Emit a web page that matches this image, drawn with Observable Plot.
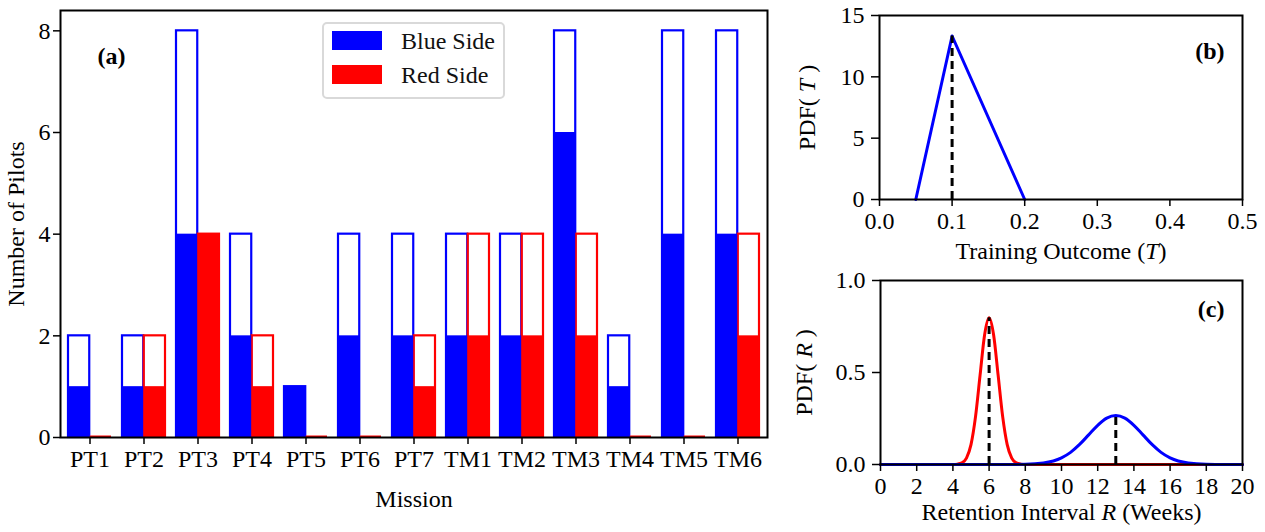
<!DOCTYPE html>
<html>
<head>
<meta charset="utf-8">
<script src="https://cdn.jsdelivr.net/npm/d3@7"></script>
<script src="https://cdn.jsdelivr.net/npm/@observablehq/plot@0.6"></script>
<style>
  html, body { margin: 0; padding: 0; background: white; }
  #wrap { position: relative; width: 1265px; height: 532px; background: white; font-family: "Liberation Serif", "Times New Roman", serif; }
  #wrap svg { position: absolute; overflow: visible; }
  .legend { position: absolute; left: 322px; top: 22px; width: 179px; height: 73px; border: 2px solid #d9d9d9; border-radius: 5px; background: white; }
  .legend .sw { position: absolute; left: 8px; width: 50px; height: 19px; }
  .legend .lb { position: absolute; left: 77px; font-size: 24px; line-height: 24px; color: #111; white-space: nowrap; }
</style>
</head>
<body>
<div id="wrap"></div>
<script>
// ---------- data: panel (a) ----------
const missions   = ["PT1","PT2","PT3","PT4","PT5","PT6","PT7","TM1","TM2","TM3","TM4","TM5","TM6"];
const blueTotal  = [2, 2, 8, 4, 1, 4, 4, 4, 4, 8, 2, 8, 8];
const blueFilled = [1, 1, 4, 2, 1, 2, 2, 2, 2, 6, 1, 4, 4];
const redTotal   = [0, 2, 4, 2, 0, 0, 2, 4, 4, 4, 0, 0, 4];
const redFilled  = [0, 1, 4, 1, 0, 0, 1, 2, 2, 2, 0, 0, 2];
const yTicksA    = [0, 2, 4, 6, 8];
const legendLabels = ["Blue Side", "Red Side"];

// ---------- data: panel (b) ----------
const triT   = [0.05, 0.10, 0.20];
const triPdf = [0, 13.33, 0];
const modeT  = 0.10;
const modeTPdf = 13.33;
const xTicksB = [0, 0.1, 0.2, 0.3, 0.4, 0.5];
const yTicksB = [0, 5, 10, 15];

// ---------- data: panel (c) ----------
const redR   = [0, 4.0, 4.25, 4.5, 4.75, 5.0, 5.25, 5.5, 5.75, 6.0, 6.25, 6.5, 6.75, 7.0, 7.25, 7.5, 7.75, 8.0, 20];
const redPdf = [0, 0, 0.002, 0.009, 0.035, 0.108, 0.26, 0.484, 0.704, 0.798, 0.704, 0.484, 0.26, 0.108, 0.035, 0.009, 0.002, 0, 0];
const blueR   = [0, 7, 8, 9, 10, 10.5, 11, 11.5, 12, 12.5, 13, 13.5, 14, 14.5, 15, 15.5, 16, 17, 18, 19, 20];
const bluePdf = [0, 0, 0.001, 0.008, 0.036, 0.066, 0.109, 0.161, 0.213, 0.252, 0.266, 0.252, 0.213, 0.161, 0.109, 0.066, 0.036, 0.008, 0.001, 0, 0];
const modesR   = [6, 13];
const modesPdf = [0.798, 0.266];
const xTicksC = [0, 2, 4, 6, 8, 10, 12, 14, 16, 18, 20];
const yTicksC = [0, 0.5, 1.0];

const BLUE = "#0000ff", RED = "#ff0000";
const FONT = "Liberation Serif";
const FS = 24;
const baseStyle = {fontFamily: FONT, fontSize: FS + "px", color: "black", background: "transparent", overflow: "visible"};

const wrap = document.getElementById("wrap");

// ---------- panel (a) ----------
const A = {width: 790, height: 532, ml: 60, mr: 23, mt: 10, mb: 95};
const stepA = (A.width - A.ml - A.mr) / missions.length;
const half = stepA * 0.4;
const barData = missions.map((m, i) => ({mission: m, bt: blueTotal[i], bf: blueFilled[i], rt: redTotal[i], rf: redFilled[i]}));

const plotA = Plot.plot({
  width: A.width, height: A.height,
  marginLeft: A.ml, marginRight: A.mr, marginTop: A.mt, marginBottom: A.mb,
  style: baseStyle,
  x: {type: "band", domain: missions, paddingInner: 0.2, paddingOuter: 0.1},
  y: {domain: [0, 8.4]},
  marks: [
    Plot.barY(barData, {x: "mission", y1: 0, y2: "bt", insetRight: half, fill: "none", stroke: BLUE, strokeWidth: 2.2}),
    Plot.barY(barData, {x: "mission", y1: 0, y2: "rt", insetLeft: half, fill: "none", stroke: RED, strokeWidth: 2.2}),
    Plot.barY(barData, {x: "mission", y1: 0, y2: "bf", insetRight: half, fill: BLUE}),
    Plot.barY(barData, {x: "mission", y1: 0, y2: "rf", insetLeft: half, fill: RED}),
    Plot.tickY(barData.filter(d => d.rt === 0), {x: "mission", y: "rt", insetLeft: half, stroke: RED, strokeWidth: 2, dy: -1}),
    Plot.frame({stroke: "black", strokeWidth: 2}),
    Plot.axisY({ticks: yTicksA, tickSize: 7, tickPadding: 3, strokeWidth: 1.5, fontSize: FS, label: "Number of Pilots", labelAnchor: "center", labelArrow: "none", labelOffset: 54}),
    Plot.axisX({tickSize: 7, tickPadding: 5, strokeWidth: 1.5, fontSize: FS, label: "Mission", labelAnchor: "center", labelArrow: "none", labelOffset: 69}),
    Plot.text(["(a)"], {frameAnchor: "top-left", dx: 37, dy: 36, fontWeight: "bold", fontSize: FS})
  ]
});
plotA.style.left = "0px"; plotA.style.top = "0px";
wrap.appendChild(plotA);

// legend (a)
const leg = document.createElement("div");
leg.className = "legend";
[BLUE, RED].forEach((c, i) => {
  const sw = document.createElement("div");
  sw.className = "sw"; sw.style.background = c; sw.style.top = (7 + i * 34) + "px";
  const lb = document.createElement("div");
  lb.className = "lb"; lb.textContent = legendLabels[i]; lb.style.top = (5 + i * 34) + "px";
  leg.appendChild(sw); leg.appendChild(lb);
});
wrap.appendChild(leg);

// ---------- panel (b) ----------
const triData = triT.map((t, i) => ({t, p: triPdf[i]}));
const plotB = Plot.plot({
  width: 475, height: 265,
  marginLeft: 89, marginRight: 23, marginTop: 15, marginBottom: 66,
  style: baseStyle,
  x: {domain: [0, 0.5]},
  y: {domain: [0, 15]},
  marks: [
    Plot.line(triData, {x: "t", y: "p", stroke: BLUE, strokeWidth: 3}),
    Plot.ruleX([modeT], {y1: 0, y2: modeTPdf, stroke: "black", strokeWidth: 3, strokeDasharray: "8,5"}),
    Plot.frame({stroke: "black", strokeWidth: 2}),
    Plot.axisY({ticks: yTicksB, tickSize: 8, tickPadding: 7, strokeWidth: 1.5, fontSize: FS, label: "PDF( T )", labelAnchor: "center", labelArrow: "none", labelOffset: 82}),
    Plot.axisX({ticks: xTicksB, tickFormat: d3.format(".1f"), tickSize: 7, tickPadding: 5, strokeWidth: 1.5, fontSize: FS, label: "Training Outcome (T)", labelAnchor: "center", labelArrow: "none", labelOffset: 59}),
    Plot.text(["(b)"], {frameAnchor: "top-right", dx: -18, dy: 26, fontWeight: "bold", fontSize: FS})
  ]
});
plotB.style.left = "790px"; plotB.style.top = "0px";
wrap.appendChild(plotB);

// ---------- panel (c) ----------
const redData = redR.map((r, i) => ({r, p: redPdf[i]}));
const blueData = blueR.map((r, i) => ({r, p: bluePdf[i]}));
const plotC = Plot.plot({
  width: 475, height: 267,
  marginLeft: 90, marginRight: 23, marginTop: 15, marginBottom: 68,
  style: baseStyle,
  x: {domain: [0, 20]},
  y: {domain: [0, 1]},
  marks: [
    Plot.line(redData, {x: "r", y: "p", stroke: RED, strokeWidth: 3, curve: "monotone-x"}),
    Plot.line(blueData, {x: "r", y: "p", stroke: BLUE, strokeWidth: 3, curve: "monotone-x"}),
    Plot.ruleX(modesR, {y1: 0, y2: (d, i) => modesPdf[i], stroke: "black", strokeWidth: 3, strokeDasharray: "8,5"}),
    Plot.frame({stroke: "black", strokeWidth: 2}),
    Plot.axisY({ticks: yTicksC, tickFormat: d3.format(".1f"), tickSize: 8, tickPadding: 7, strokeWidth: 1.5, fontSize: FS, label: "PDF( R )", labelAnchor: "center", labelArrow: "none", labelOffset: 86}),
    Plot.axisX({ticks: xTicksC, tickSize: 7, tickPadding: 5, strokeWidth: 1.5, fontSize: FS, label: "Retention Interval R (Weeks)", labelAnchor: "center", labelArrow: "none", labelOffset: 55}),
    Plot.text(["(c)"], {frameAnchor: "top-right", dx: -18, dy: 19, fontWeight: "bold", fontSize: FS})
  ]
});
plotC.style.left = "790px"; plotC.style.top = "265px";
wrap.appendChild(plotC);

// italic variables in axis labels
function italicize(svg, which, html) {
  const t = svg.querySelector(`[aria-label="${which}-axis label"] text`);
  if (t) t.innerHTML = html;
}
italicize(plotB, "y", 'PDF( <tspan font-style="italic">T</tspan> )');
italicize(plotB, "x", 'Training Outcome (<tspan font-style="italic">T</tspan>)');
italicize(plotC, "y", 'PDF( <tspan font-style="italic">R</tspan> )');
italicize(plotC, "x", 'Retention Interval <tspan font-style="italic">R</tspan> (Weeks)');
</script>
</body>
</html>
